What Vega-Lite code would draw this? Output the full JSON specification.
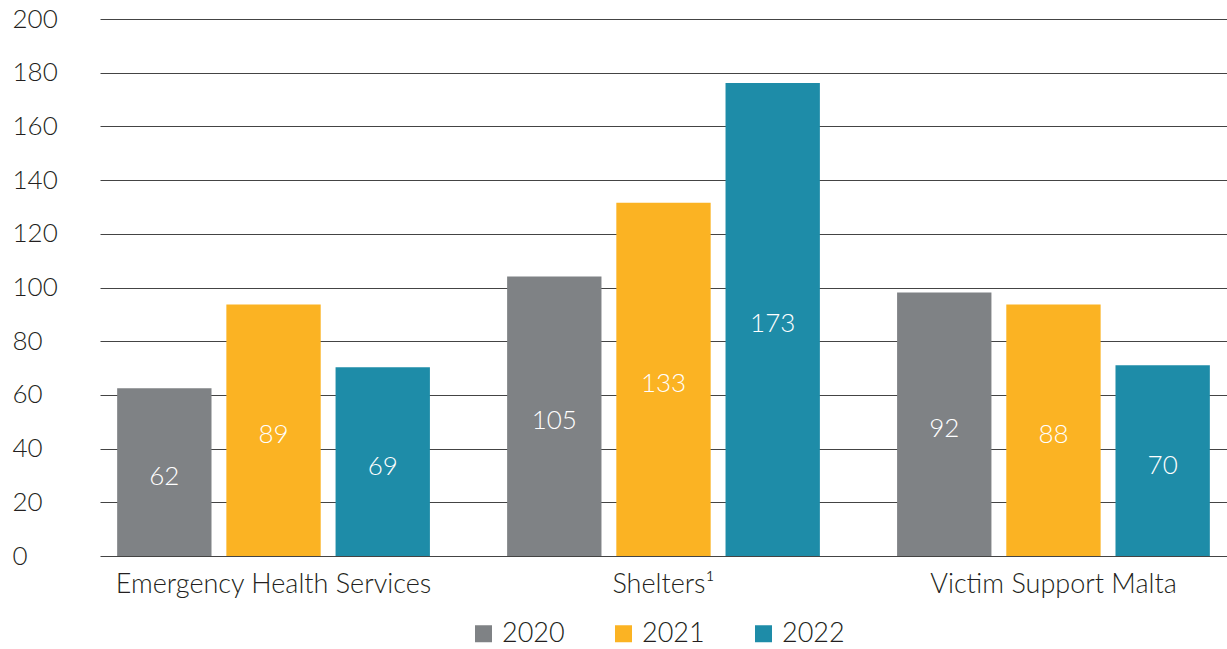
{
  "$schema": "https://vega.github.io/schema/vega-lite/v6.json",
  "autosize": "none",
  "width": 1127,
  "height": 537,
  "padding": {"left": 100, "top": 19, "right": 0, "bottom": 93},
  "background": "white",
  "config": {
    "font": "Lato",
    "view": {"stroke": null},
    "axis": {"labelFont": "Lato", "labelColor": "#231f20", "labelFontWeight": 300},
    "legend": {"labelFont": "Lato", "labelColor": "#231f20", "labelFontWeight": 300}
  },
  "data": {
    "values": [
      {"service": "Emergency Health Services", "year": "2020", "height": 62.5, "label": "62"},
      {"service": "Emergency Health Services", "year": "2021", "height": 93.7, "label": "89"},
      {"service": "Emergency Health Services", "year": "2022", "height": 70.3, "label": "69"},
      {"service": "Shelters¹", "year": "2020", "height": 104.1, "label": "105"},
      {"service": "Shelters¹", "year": "2021", "height": 131.6, "label": "133"},
      {"service": "Shelters¹", "year": "2022", "height": 176.2, "label": "173"},
      {"service": "Victim Support Malta", "year": "2020", "height": 98.1, "label": "92"},
      {"service": "Victim Support Malta", "year": "2021", "height": 93.7, "label": "88"},
      {"service": "Victim Support Malta", "year": "2022", "height": 71.0, "label": "70"}
    ]
  },
  "encoding": {
    "x": {
      "field": "service",
      "type": "nominal",
      "sort": ["Emergency Health Services", "Shelters¹", "Victim Support Malta"],
      "scale": {"paddingInner": 0.198, "paddingOuter": 0.044},
      "axis": {
        "title": null,
        "labelAngle": 0,
        "labelFontSize": 27,
        "labelPadding": 15,
        "labelLimit": 0,
        "domain": false,
        "ticks": false,
        "grid": false
      }
    },
    "xOffset": {
      "field": "year",
      "type": "nominal",
      "sort": ["2020", "2021", "2022"],
      "scale": {"paddingInner": 0.136, "paddingOuter": 0}
    }
  },
  "layer": [
    {
      "mark": {"type": "bar", "strokeWidth": 0},
      "encoding": {
        "y": {
          "field": "height",
          "type": "quantitative",
          "scale": {"domain": [0, 200], "nice": false},
          "axis": {
            "title": null,
            "values": [0, 20, 40, 60, 80, 100, 120, 140, 160, 180, 200],
            "labelFontSize": 26,
            "labelAlign": "left",
            "labelPadding": 88,
            "ticks": false,
            "tickSize": 0,
            "domain": false,
            "grid": true,
            "gridColor": "#444444",
            "gridWidth": 1
          }
        },
        "color": {
          "field": "year",
          "type": "nominal",
          "sort": ["2020", "2021", "2022"],
          "scale": {"domain": ["2020", "2021", "2022"], "range": ["#7f8285", "#fbb323", "#1e8ca8"]},
          "legend": {
            "title": null,
            "orient": "none",
            "direction": "horizontal",
            "legendX": 370,
            "legendY": 601,
            "symbolType": "square",
            "symbolSize": 289,
            "symbolStrokeWidth": 0,
            "labelFontSize": 27,
            "labelOffset": 5,
            "columnPadding": 45
          }
        }
      }
    },
    {
      "mark": {"type": "text", "color": "white", "fontSize": 26, "fontWeight": 300, "baseline": "middle", "align": "center", "dy": 5},
      "encoding": {
        "y": {
          "field": "height",
          "type": "quantitative",
          "scale": {"domain": [0, 400], "nice": false},
          "axis": null
        },
        "text": {"field": "label"}
      }
    }
  ],
  "resolve": {"scale": {"y": "independent"}}
}
